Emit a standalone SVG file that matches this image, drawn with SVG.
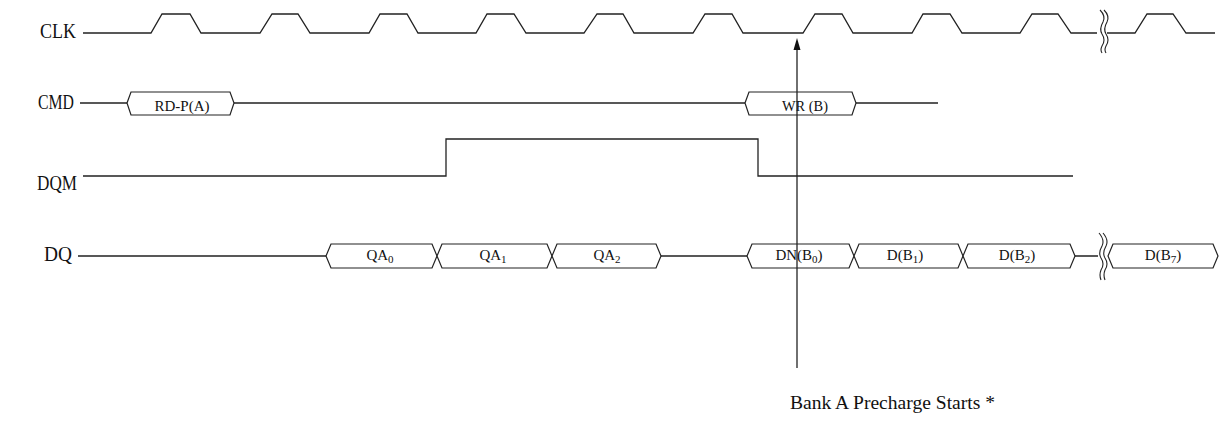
<svg xmlns="http://www.w3.org/2000/svg" width="1225" height="438" viewBox="0 0 1225 438">
<style>
.sig{fill:none;stroke:#222;stroke-width:1.3;stroke-linejoin:miter}
.hex{fill:#fff;stroke:#222;stroke-width:1.2}
.brk{fill:none;stroke:#222;stroke-width:1.1}
.lbl{font-family:"Liberation Serif",serif;font-size:22px;fill:#111}
.txt{font-family:"Liberation Serif",serif;font-size:15px;fill:#111;text-anchor:middle}
.sub{font-size:11px}
.cap{font-family:"Liberation Serif",serif;font-size:18px;fill:#111}
</style>
<rect width="1225" height="438" fill="#fff"/>
<g id="labels">
<text class="lbl" x="40" y="38" textLength="36" lengthAdjust="spacingAndGlyphs">CLK</text>
<text class="lbl" x="38" y="109" textLength="36" lengthAdjust="spacingAndGlyphs">CMD</text>
<text class="lbl" x="37" y="190" textLength="40" lengthAdjust="spacingAndGlyphs">DQM</text>
<text class="lbl" x="44" y="261" textLength="28" lengthAdjust="spacingAndGlyphs">DQ</text>
</g>
<g id="clk">
<path class="sig" d="M83,33 L151,33 L162,14 L190,14 L201,33 L260,33 L272,14 L298,14 L310,33 L369,33 L380,14 L407,14 L418,33 L476,33 L487,14 L514,14 L526,33 L584,33 L597,14 L623,14 L634,33 L693,33 L705,14 L732,14 L743,33 L803,33 L815,14 L842,14 L853,33 L912,33 L923,14 L950,14 L962,33 L1020,33 L1032,14 L1058,14 L1071,33 L1097,33"/>
<path class="sig" d="M1107,33 L1135,33 L1147,14 L1173,14 L1186,33 L1215,33"/>
<path class="brk" d="M1100,10 Q1106,16 1103,22 Q1099,29 1102,34 Q1106,40 1102,46 Q1100,50 1102,53"/>
<path class="brk" d="M1104,10 Q1110,16 1107,22 Q1103,29 1106,34 Q1110,40 1106,46 Q1104,50 1106,53"/>
</g>
<g id="cmd">
<path class="sig" d="M80,103 H127 M234,103 H745 M856,103 H938"/>
<g id="cmd-rdp">
<polygon class="hex" points="127,103 131,92 230,92 234,103 230,115 131,115"/>
<text class="txt" x="182" y="111" textLength="55" lengthAdjust="spacingAndGlyphs">RD-P(A)</text>
</g>
<g id="cmd-wr">
<polygon class="hex" points="745,103 749,92 852,92 856,103 852,115 749,115"/>
<text class="txt" x="805" y="111" textLength="46" lengthAdjust="spacingAndGlyphs">WR (B)</text>
</g>
</g>
<g id="dqm">
<path class="sig" d="M83,176 H446 V139 H758 V176 H1073"/>
</g>
<g id="dq">
<path class="sig" d="M78,256 H326 M661,256 H747 M1075,256 H1098"/>
<g id="qa0"><polygon class="hex" points="326,256 331,244 432,244 437,256 432,268 331,268"/><text class="txt" x="380" y="260">QA<tspan class="sub" dy="3">0</tspan></text></g>
<g id="qa1"><polygon class="hex" points="437,256 442,244 547,244 552,256 547,268 442,268"/><text class="txt" x="493" y="260">QA<tspan class="sub" dy="3">1</tspan></text></g>
<g id="qa2"><polygon class="hex" points="552,256 557,244 656,244 661,256 656,268 557,268"/><text class="txt" x="607" y="260">QA<tspan class="sub" dy="3">2</tspan></text></g>
<g id="dnb0"><polygon class="hex" points="747,256 752,244 849,244 854,256 849,268 752,268"/><text class="txt" x="799" y="260">DN(B<tspan class="sub" dy="3">0</tspan><tspan dy="-3">)</tspan></text></g>
<g id="db1"><polygon class="hex" points="854,256 859,244 958,244 963,256 958,268 859,268"/><text class="txt" x="905" y="260">D(B<tspan class="sub" dy="3">1</tspan><tspan dy="-3">)</tspan></text></g>
<g id="db2"><polygon class="hex" points="963,256 968,244 1070,244 1075,256 1070,268 968,268"/><text class="txt" x="1017" y="260">D(B<tspan class="sub" dy="3">2</tspan><tspan dy="-3">)</tspan></text></g>
<g id="db7"><polygon class="hex" points="1108,256 1113,244 1213,244 1218,256 1213,268 1113,268"/><text class="txt" x="1163" y="260">D(B<tspan class="sub" dy="3">7</tspan><tspan dy="-3">)</tspan></text></g>
<path class="brk" d="M1099,233 Q1105,240 1102,246 Q1098,253 1101,258 Q1105,264 1101,270 Q1099,275 1101,280"/>
<path class="brk" d="M1103,233 Q1109,240 1106,246 Q1102,253 1105,258 Q1109,264 1105,270 Q1103,275 1105,280"/>
</g>
<g id="connectors">
<line class="sig" x1="797" y1="368" x2="797" y2="48"/>
<polygon points="797,38 793.5,50 800.5,50" fill="#111"/>
</g>
<g id="note">
<text class="cap" x="790" y="409" textLength="205" lengthAdjust="spacingAndGlyphs">Bank A Precharge Starts *</text>
</g>
</svg>
